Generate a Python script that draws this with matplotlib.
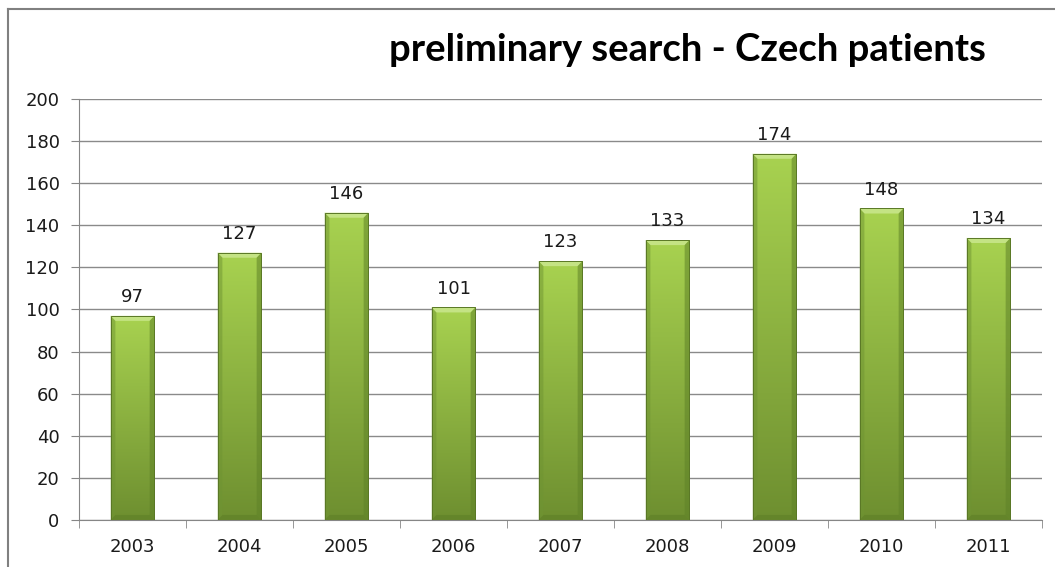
import numpy as np
import matplotlib
matplotlib.use('Agg')
from matplotlib import pyplot as plt
from matplotlib.patches import Polygon
from matplotlib.lines import Line2D

plt.rcParams['font.family'] = ['DejaVu Sans']

years = ['2003', '2004', '2005', '2006', '2007', '2008', '2009', '2010', '2011']
counts = [97, 127, 146, 101, 123, 133, 174, 148, 134]
yticks = [0, 20, 40, 60, 80, 100, 120, 140, 160, 180, 200]
title = 'preliminary search - Czech patients'

fig = plt.figure(figsize=(10.55, 5.67), dpi=100)
ax = fig.add_axes([0.0749, 0.0829, 0.9128, 0.7425])

# gradient image used to fill the bars: lighter at top, darker at bottom
top = np.array([168, 210, 80]) / 255.
bot = np.array([110, 143, 48]) / 255.
ny, nx = 100, 40
t = np.linspace(0, 1, ny)[:, None, None]
grad = bot * t + top * (1 - t)
grad = np.repeat(grad, nx, axis=1)

width = 0.41
x = np.arange(len(years))
bars = ax.bar(x, counts, width, color='none', edgecolor='#5a7826', linewidth=0.7, zorder=4)

# bevel size in data units (about 5 px)
bx, by = 0.045, 2.4
for b in bars:
    x0, y0 = b.get_x(), b.get_y()
    w, h = b.get_width(), b.get_height()
    x1, y1 = x0 + w, y0 + h
    im = ax.imshow(grad, extent=[x0, x1, y0, y1], origin='upper',
                   aspect='auto', zorder=2, interpolation='bilinear')
    im.set_clip_path(b)
    # bevel: light top, darker sides and bottom
    bevels = [
        ([(x0, y1), (x1, y1), (x1 - bx, y1 - by), (x0 + bx, y1 - by)], '#c8e68a', 0.9),
        ([(x0, y0), (x0, y1), (x0 + bx, y1 - by), (x0 + bx, y0 + by)], '#6f9433', 0.5),
        ([(x1, y0), (x1, y1), (x1 - bx, y1 - by), (x1 - bx, y0 + by)], '#5f8228', 0.55),
        ([(x0, y0), (x1, y0), (x1 - bx, y0 + by), (x0 + bx, y0 + by)], '#5a7a24', 0.45),
    ]
    for pts, col, a in bevels:
        ax.add_patch(Polygon(pts, closed=True, facecolor=col, edgecolor='none',
                             alpha=a, zorder=3))
    ax.annotate(f'{int(h)}', (x0 + w / 2, y1), xytext=(0, 7),
                textcoords='offset points', ha='center', va='bottom',
                fontsize=13, color='#1a1a1a')

ax.set_xlim(-0.5, len(years) - 0.5)
ax.set_ylim(0, 200)
ax.set_yticks(yticks)
ax.set_xticks(x)
ax.set_xticklabels(years)
ax.set_xticks(np.arange(-0.5, len(years)), minor=True)
ax.tick_params(axis='x', which='major', length=0, pad=13, labelsize=13,
               labelcolor='#1a1a1a')
ax.tick_params(axis='x', which='minor', length=6, color='#868686')
ax.tick_params(axis='y', length=6, color='#868686', pad=8, labelsize=13,
               labelcolor='#1a1a1a')

ax.grid(axis='y', color='#8a8a8a', linewidth=1, zorder=0)
ax.set_axisbelow(True)
for s in ['top', 'right']:
    ax.spines[s].set_visible(False)
for s in ['left', 'bottom']:
    ax.spines[s].set_color('#868686')

fig.text(0.652, 0.912, title, ha='center', va='center', fontsize=27.5,
         fontweight='bold', family=['Lato', 'DejaVu Sans'])

# chart frame
fig.add_artist(Line2D([0.0076, 0.0076], [0, 0.984], color='#808080', lw=1.5,
                      transform=fig.transFigure))
fig.add_artist(Line2D([0.0076, 1], [0.984, 0.984], color='#808080', lw=1.5,
                      transform=fig.transFigure))

fig.savefig('out.png', dpi=100)
